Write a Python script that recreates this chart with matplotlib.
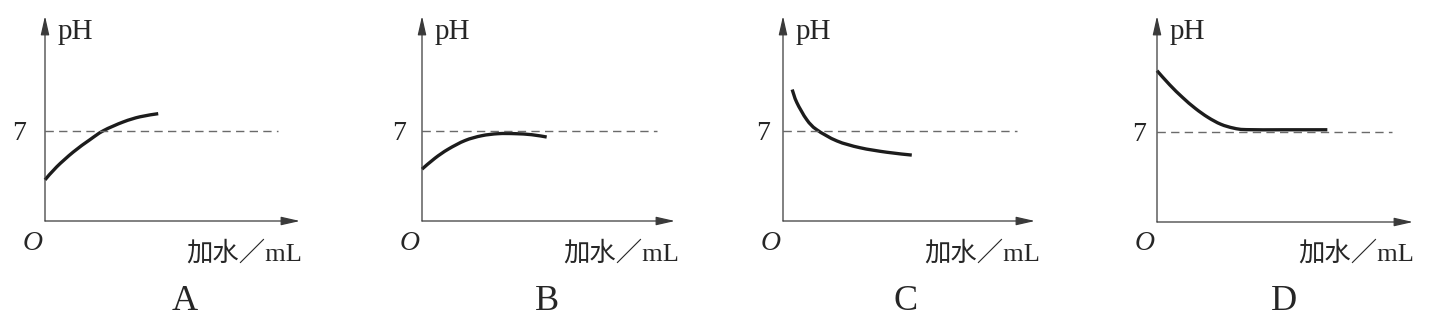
import matplotlib
matplotlib.use('Agg')
import matplotlib.pyplot as plt
import numpy as np
from matplotlib.path import Path
from matplotlib.patches import PathPatch

# ---------------- data ----------------
panel_labels = ['A', 'B', 'C', 'D']
y_label = 'pH'
x_label = '加水／mL'
origin_label = 'O'
neutral_ph = 7
neutral_tick = '7'

water_A = [0.0, 0.46, 1.11, 1.76, 2.29, 3.07, 3.73, 4.44]
ph_A = [3.19, 4.20, 5.35, 6.30, 7.00, 7.68, 8.08, 8.32]

water_B = [0.0, 0.51, 1.03, 1.69, 2.34, 2.99, 3.65, 4.30, 4.89]
ph_B = [4.02, 4.87, 5.57, 6.24, 6.61, 6.77, 6.77, 6.69, 6.51]

water_C = [0.36, 0.54, 0.93, 1.32, 2.11, 3.02, 4.07, 5.05]
ph_C = [10.19, 9.19, 7.86, 7.08, 6.21, 5.68, 5.33, 5.11]

water_D = [0.0, 0.5, 1.0, 1.5, 2.0, 2.5, 3.0, 3.5, 5.0, 6.68]
ph_D = [11.73, 10.63, 9.66, 8.81, 8.11, 7.58, 7.28, 7.16, 7.15, 7.15]

waters = [water_A, water_B, water_C, water_D]
phs = [ph_A, ph_B, ph_C, ph_D]

# ---------------- layout (pixels) ----------------
W, H = 1443, 323
PX_X = 25.5    # pixels per mL unit
PX_Y = 12.9    # pixels per pH unit
origins = [(45, 221), (422, 221), (783, 221), (1157, 222)]
x_arrow_len = [255, 253, 252, 256]
y_top = 16
dash_len = [233, 235, 234, 235]
seven_dx = [-26, -23, -20, -18]
letter_x = [185, 547, 906, 1284]

TEXT_C = '#262626'
AXIS_C = '#3a3a3a'
SERIF = ['Liberation Serif', 'DejaVu Serif']
MIXED = ['Liberation Serif', 'Noto Sans CJK SC', 'DejaVu Sans']

fig = plt.figure(figsize=(W / 100, H / 100), dpi=100)
fig.patch.set_facecolor('white')


def fx(x):
    return x / W


def fy(y):
    return 1 - y / H


def smooth_curve(xs, ys):
    """Smooth cubic Bezier path through the given points (Catmull-Rom)."""
    pts = np.column_stack([xs, ys]).astype(float)
    n = len(pts)
    verts = [pts[0]]
    codes = [Path.MOVETO]
    for k in range(n - 1):
        p0 = pts[k - 1] if k > 0 else pts[k]
        p1 = pts[k]
        p2 = pts[k + 1]
        p3 = pts[k + 2] if k + 2 < n else pts[k + 1]
        verts += [p1 + (p2 - p0) / 6.0, p2 - (p3 - p1) / 6.0, p2]
        codes += [Path.CURVE4] * 3
    return Path(np.array(verts), codes)


for i in range(4):
    x0, y0 = origins[i]
    wpx = x_arrow_len[i]
    hpx = y0 - y_top
    ax = fig.add_axes([fx(x0), fy(y0), wpx / W, hpx / H])
    ax.set_xlim(0, wpx / PX_X)
    ax.set_ylim(0, hpx / PX_Y)
    ax.axis('off')

    arrow = dict(arrowstyle='-|>,head_length=1.15,head_width=0.26',
                 lw=0.9, color=AXIS_C, shrinkA=0, shrinkB=0,
                 mutation_scale=10)
    ax.annotate('', xy=(1, 0), xytext=(0, 0), xycoords='axes fraction',
                arrowprops=arrow, annotation_clip=False)
    ax.annotate('', xy=(0, 1), xytext=(0, 0), xycoords='axes fraction',
                arrowprops=arrow, annotation_clip=False)

    ax.plot([0, dash_len[i] / PX_X], [neutral_ph, neutral_ph],
            color='#6a6a6a', lw=1.0, linestyle=(0, (6.0, 3.8)),
            clip_on=False)

    patch = PathPatch(smooth_curve(waters[i], phs[i]), fill=False,
                      edgecolor='#1c1c1c', lw=2.4, capstyle='butt',
                      joinstyle='round', clip_on=False)
    ax.add_patch(patch)

    # texts
    fig.text(fx(x0 + 13), fy(39), y_label, fontsize=21, family=SERIF,
             color=TEXT_C, ha='left', va='baseline')
    ydash = y0 - neutral_ph * PX_Y
    fig.text(fx(x0 + seven_dx[i]), fy(ydash + 9), neutral_tick, fontsize=20,
             family=SERIF, color=TEXT_C, ha='center', va='baseline')
    fig.text(fx(x0 - 12), fy(250), origin_label, fontsize=20, family=SERIF,
             style='italic', color=TEXT_C, ha='center', va='baseline')
    fig.text(fx(x0 + 141), fy(261), x_label, fontsize=19, family=MIXED,
             color=TEXT_C, ha='left', va='baseline')
    fig.text(fx(letter_x[i]), fy(310), panel_labels[i], fontsize=26,
             family=SERIF, color=TEXT_C, ha='center', va='baseline')

fig.savefig('out.png', dpi=100, facecolor='white')
